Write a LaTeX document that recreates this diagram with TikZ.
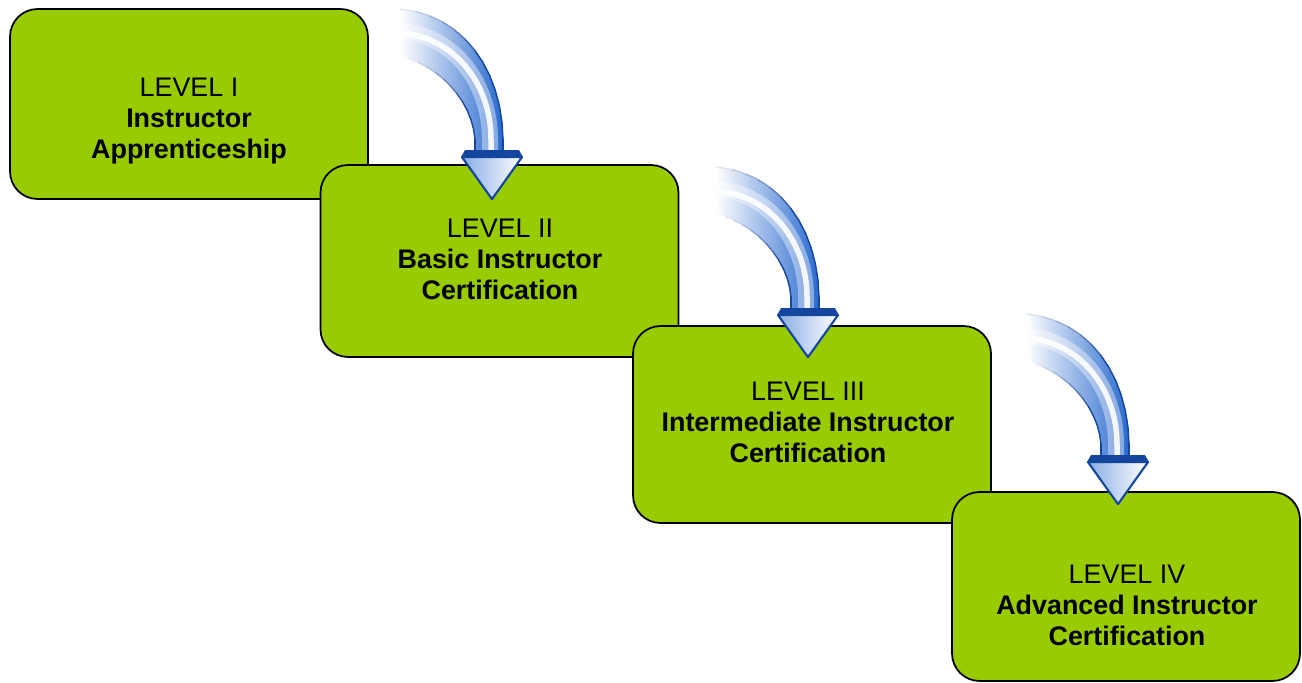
\documentclass[tikz,border=0pt]{standalone}
\usepackage{fontspec}
\setmainfont{Liberation Sans}
\usetikzlibrary{positioning}

\definecolor{levelgreen}{RGB}{153,204,0}
\definecolor{arrowblue}{RGB}{40,105,205}
\definecolor{arrowdark}{RGB}{20,70,160}

\tikzset{
  levelbox/.style={draw=black, line width=1pt, fill=levelgreen, rounded corners=0.55cm, minimum width=7.16cm},
  levellabel/.style={align=center, font=\fontsize{15.3}{17.6}\selectfont},
  edgeline/.style={line width=0.8pt, line cap=round},
  flowarrow/.pic={
    % shaft, white at the tail
    \fill[left color=white, right color=arrowblue, middle color=arrowblue!50!white] (11,-42) -- (11,-60) .. controls (10,-130) and (-30,-185) .. (-92,-190) -- (-92,-143) .. controls (-55,-135) and (-20,-100) .. (-17,-60) -- (-17,-42) -- cycle;
    % highlight
    \draw[white, opacity=0.4, line width=0.32cm] (-2,-46) -- (-2,-60) .. controls (-2,-115) and (-38,-165) .. (-92,-168);
    \draw[white, opacity=0.9, line width=0.11cm] (-1,-46) -- (-1,-60) .. controls (-1,-115) and (-38,-163) .. (-92,-166);
    % outline, fading out to the tail
    \path (11,-60) .. controls (10,-130) and (-30,-185) .. (-92,-190)
      foreach \k in {0,...,12} {coordinate[pos=\k/12] (o\k)};
    \path (-92,-143) .. controls (-55,-135) and (-20,-100) .. (-17,-60)
      foreach \k in {0,...,12} {coordinate[pos=\k/12] (i\k)};
    \foreach \k [evaluate=\k as \n using int(\k+1),
                 evaluate=\k as \c using {int(min(100,max(0,(12-\k)*100/7)))}] in {0,...,11}
      \draw[edgeline, arrowdark!\c!white] (o\k) -- (o\n);
    \foreach \k [evaluate=\k as \n using int(\k+1),
                 evaluate=\k as \c using {int(min(100,\k*100/8))}] in {0,...,11}
      \draw[edgeline, arrowdark!\c!white] (i\k) -- (i\n);
    \draw[edgeline, arrowdark] (o0) -- (11,-42) (i12) -- (-17,-42);
    % head
    \fill[arrowdark] (-31,-42) -- (-27,-49) -- (27,-49) -- (31,-42) -- cycle;
    \draw[arrowdark, line width=1.2pt, line join=round, left color=arrowblue!55!white, right color=white] (-30,-42) -- (30,-42) -- (0,0) -- cycle;
  }
}

\begin{document}
\begin{tikzpicture}[x=0.02cm, y=-0.02cm]
  \useasboundingbox (0,0) rectangle (1302,683);

  % Level boxes
  \node[levelbox, minimum height=3.80cm] (B1) at (189,104) {};
  \node[levelbox, minimum height=3.84cm] (B2) at (499.5,261) {};
  \node[levelbox, minimum height=3.94cm] (B3) at (812,424.5) {};
  \node[levelbox, minimum height=3.78cm, minimum width=6.96cm] (B4) at (1126,586.5) {};

  \node[levellabel] (L1) at (189,121) {LEVEL I\\\textbf{Instructor}\\\textbf{Apprenticeship}};
  \node[levellabel] (L2) at (500,259) {LEVEL II\\\textbf{Basic Instructor}\\\textbf{Certification}};
  \node[levellabel] (L3) at (808,422) {LEVEL III\\\textbf{Intermediate Instructor}\\\textbf{Certification}};
  \node[levellabel] (L4) at (1127,605) {LEVEL IV\\\textbf{Advanced Instructor}\\\textbf{Certification}};

  % Arrows between levels
  \coordinate (A1) at ([shift={(-7.5,35)}]B2.north);
  \coordinate (A2) at ([shift={(-4,32)}]B3.north);
  \coordinate (A3) at ([shift={(-8,13)}]B4.north);
  \pic at (A1) {flowarrow};
  \pic at (A2) {flowarrow};
  \pic at (A3) {flowarrow};

\end{tikzpicture}
\end{document}
